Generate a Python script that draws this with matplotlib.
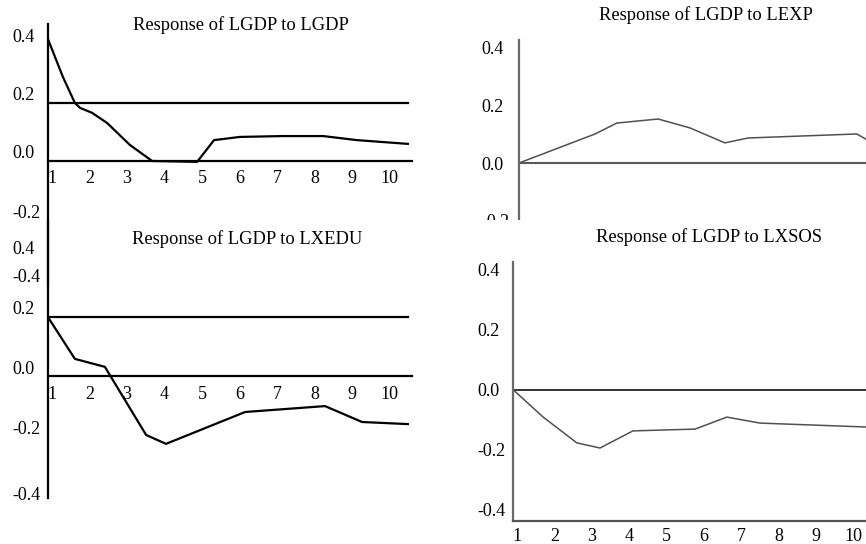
import matplotlib
matplotlib.use('Agg')
import matplotlib.pyplot as plt
from matplotlib.transforms import ScaledTranslation
from matplotlib.patches import Rectangle

plt.rcParams['font.family'] = ['Liberation Serif', 'DejaVu Serif']

# impulse responses (period, response)
lgdp_x = [0.89, 1.29, 1.61, 1.75, 2.07, 2.47, 3.08, 3.67, 4.87, 5.32, 6.01, 7.16, 8.23, 9.13, 10.49]
lgdp_y = [0.421, 0.290, 0.200, 0.183, 0.166, 0.131, 0.055, 0.0, -0.003, 0.072, 0.083, 0.086, 0.086, 0.072, 0.059]

lxedu_x = [0.89, 1.61, 2.41, 3.51, 4.04, 6.15, 8.28, 9.27, 10.49]
lxedu_y = [0.2, 0.058, 0.031, -0.2, -0.23, -0.122, -0.102, -0.156, -0.163]

lexp_x = [1.0, 3.03, 3.61, 4.71, 5.56, 6.49, 7.11, 10.01, 10.25]
lexp_y = [0.0, 0.101, 0.139, 0.153, 0.122, 0.070, 0.087, 0.101, 0.083]

lxsos_x = [0.89, 1.70, 2.60, 3.22, 4.10, 5.76, 6.61, 7.50, 10.33]
lxsos_y = [0.0, -0.092, -0.178, -0.195, -0.138, -0.132, -0.092, -0.112, -0.125]

periods = list(range(1, 11))
y_ticks = [0.4, 0.2, 0.0, -0.2, -0.4]
y_labels = ['0.4', '0.2', '0.0', '-0.2', '-0.4']

W, H = 866, 544
fig = plt.figure(figsize=(W / 100, H / 100), dpi=100)


def add_panel(x0, y0, x1, y1, p_left, step, zero_px, scale, xpad):
    ax = fig.add_axes([x0 / W, 1 - y1 / H, (x1 - x0) / W, (y1 - y0) / H])
    ax.patch.set_alpha(0)
    ax.spines['top'].set_visible(False)
    ax.spines['right'].set_visible(False)
    ax.set_xticks(periods)
    ax.set_xticklabels([str(p) for p in periods])
    ax.set_yticks(y_ticks)
    ax.set_yticklabels(y_labels)
    # limits after the ticks, so set_yticks does not widen them
    ax.set_xlim(p_left, p_left + (x1 - x0) / step)
    ax.set_ylim((zero_px - y1) / scale, (zero_px - y0) / scale)
    ax.tick_params(length=0, labelsize=13)
    ax.tick_params(axis='y', pad=25.5)
    ax.tick_params(axis='x', pad=xpad)
    for t in ax.get_yticklabels():
        t.set_ha('left')
    return ax


def shift_labels(ax, shifts_px):
    for t, px in zip(ax.get_yticklabels(), shifts_px):
        t.set_transform(t.get_transform() + ScaledTranslation(0, px / 100, fig.dpi_scale_trans))


# left column: black, zero line doubles as x axis
ax1 = add_panel(48, 24, 412, 285, 0.893, 37.5, 161, 290, 6.5)
ax2 = add_panel(48, 220, 412, 498, 0.893, 37.5, 376, 295, 7)
for ax in (ax1, ax2):
    ax.spines['bottom'].set_position(('data', 0))
    ax.spines['left'].set_linewidth(1.6)
    ax.spines['bottom'].set_linewidth(1.6)
    ax.axhline(0.2, xmax=0.989, color='black', lw=1.6)
    shift_labels(ax, [10, 10, 9, 7, 1])
ax1.plot(lgdp_x, lgdp_y, color='black', lw=1.6)
ax2.plot(lxedu_x, lxedu_y, color='black', lw=1.6)

# right column: grey
ax3 = add_panel(519, 40, 866, 240, 1.0, 37.5, 163, 287.5, 5)
ax4 = add_panel(513, 262, 866, 521, 0.893, 37.4, 389.5, 300, 5)
ax3.spines['bottom'].set_visible(False)
ax3.tick_params(axis='x', labelbottom=False)
ax3.tick_params(axis='y', pad=27)
for t in ax3.get_yticklabels():
    t.set_ha('left')
for ax in (ax3, ax4):
    ax.spines['left'].set_color('#6a6a6a')
    ax.spines['left'].set_linewidth(1.6)
    ax.spines['bottom'].set_color('#555555')
    ax.spines['bottom'].set_linewidth(1.6)
ax3.axhline(0, color='#5a5a5a', lw=1.5)
ax4.axhline(0, color='#222222', lw=1.3)
ax3.plot(lexp_x, lexp_y, color='#505050', lw=1.1)
ax4.plot(lxsos_x, lxsos_y, color='#505050', lw=1.1)

# lower right panel covers the bottom of the upper right one
ax3.set_zorder(0)
fig.add_artist(Rectangle((433 / W, 0), 433 / W, 1 - 220 / H, transform=fig.transFigure,
                         facecolor='white', edgecolor='none', zorder=0.5))
ax4.set_zorder(1)

fig.text(241 / W, 1 - 25 / H, 'Response of LGDP to LGDP', ha='center', va='center', fontsize=13.3)
fig.text(247 / W, 1 - 239 / H, 'Response of LGDP to LXEDU', ha='center', va='center', fontsize=13.3)
fig.text(706 / W, 1 - 15 / H, 'Response of LGDP to LEXP', ha='center', va='center', fontsize=13.3)
fig.text(709 / W, 1 - 237 / H, 'Response of LGDP to LXSOS', ha='center', va='center', fontsize=13.3)

fig.savefig('out.png', dpi=100)
